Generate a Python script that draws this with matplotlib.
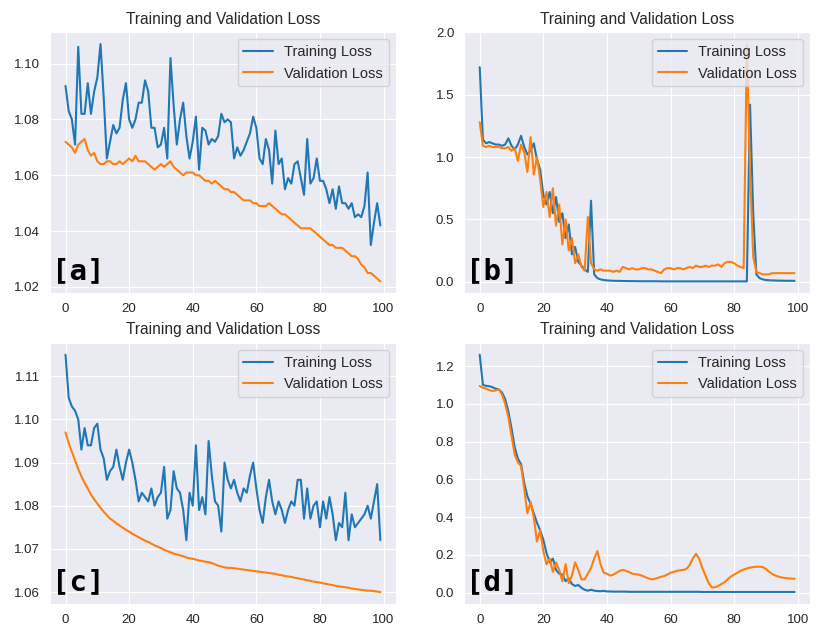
import matplotlib
matplotlib.use("Agg")
import matplotlib.pyplot as plt
import numpy as np
import seaborn as sns

# --- data ---
epochs = np.arange(100)

train_a = [1.092, 1.083, 1.080, 1.071, 1.106, 1.082, 1.082, 1.093, 1.082, 1.090,
           1.095, 1.107, 1.088, 1.066, 1.072, 1.078, 1.075, 1.077, 1.087, 1.093,
           1.080, 1.077, 1.080, 1.086, 1.086, 1.094, 1.090, 1.077, 1.077, 1.070,
           1.071, 1.077, 1.066, 1.102, 1.085, 1.071, 1.080, 1.086, 1.074, 1.066,
           1.072, 1.081, 1.062, 1.077, 1.076, 1.071, 1.073, 1.072, 1.074, 1.082,
           1.079, 1.080, 1.079, 1.066, 1.070, 1.067, 1.069, 1.072, 1.075, 1.081,
           1.077, 1.066, 1.064, 1.073, 1.069, 1.057, 1.076, 1.064, 1.066, 1.055,
           1.059, 1.057, 1.064, 1.065, 1.059, 1.053, 1.073, 1.057, 1.059, 1.066,
           1.058, 1.058, 1.055, 1.050, 1.055, 1.048, 1.056, 1.050, 1.050, 1.048,
           1.050, 1.045, 1.046, 1.045, 1.049, 1.061, 1.035, 1.043, 1.050, 1.042]
val_a = [1.072, 1.071, 1.070, 1.068, 1.071, 1.072, 1.073, 1.069, 1.067, 1.068,
         1.065, 1.064, 1.064, 1.065, 1.065, 1.064, 1.064, 1.065, 1.064, 1.065,
         1.066, 1.065, 1.067, 1.065, 1.065, 1.065, 1.064, 1.063, 1.062, 1.063,
         1.064, 1.063, 1.064, 1.065, 1.063, 1.062, 1.061, 1.060, 1.061, 1.061,
         1.061, 1.060, 1.060, 1.059, 1.058, 1.058, 1.057, 1.058, 1.057, 1.056,
         1.055, 1.055, 1.054, 1.054, 1.053, 1.052, 1.051, 1.051, 1.051, 1.050,
         1.050, 1.049, 1.049, 1.049, 1.050, 1.049, 1.048, 1.047, 1.046, 1.046,
         1.045, 1.044, 1.043, 1.042, 1.041, 1.041, 1.041, 1.041, 1.040, 1.039,
         1.038, 1.037, 1.036, 1.035, 1.035, 1.034, 1.034, 1.034, 1.033, 1.032,
         1.031, 1.031, 1.030, 1.028, 1.027, 1.025, 1.025, 1.024, 1.023, 1.022]

train_b = [1.72, 1.14, 1.11, 1.12, 1.11, 1.10, 1.10, 1.09, 1.10, 1.15,
           1.09, 1.06, 1.10, 1.17, 1.08, 1.02, 1.05, 1.11, 0.98, 0.90,
           0.70, 0.62, 0.72, 0.55, 0.68, 0.48, 0.55, 0.35, 0.46, 0.22,
           0.28, 0.16, 0.13, 0.10, 0.08, 0.65, 0.06, 0.03, 0.02, 0.015,
           0.012, 0.010, 0.009, 0.008, 0.008, 0.007, 0.007, 0.006, 0.006, 0.006,
           0.005, 0.005, 0.005, 0.005, 0.005, 0.005, 0.005, 0.004, 0.004, 0.004,
           0.004, 0.004, 0.004, 0.004, 0.004, 0.004, 0.004, 0.004, 0.004, 0.004,
           0.004, 0.004, 0.004, 0.004, 0.004, 0.004, 0.004, 0.004, 0.004, 0.004,
           0.004, 0.004, 0.004, 0.004, 0.004, 1.42, 0.55, 0.06, 0.03, 0.02,
           0.015, 0.013, 0.012, 0.011, 0.010, 0.010, 0.009, 0.009, 0.009, 0.008]
val_b = [1.28, 1.09, 1.08, 1.09, 1.08, 1.08, 1.08, 1.07, 1.07, 1.08,
         1.05, 1.07, 0.97, 1.10, 1.04, 0.88, 1.16, 0.86, 1.00, 0.82,
         0.60, 0.72, 0.52, 0.75, 0.45, 0.62, 0.30, 0.50, 0.25, 0.35,
         0.15, 0.22, 0.12, 0.09, 0.52, 0.15, 0.10, 0.09, 0.10, 0.09,
         0.09, 0.09, 0.08, 0.09, 0.08, 0.12, 0.11, 0.10, 0.11, 0.10,
         0.10, 0.11, 0.11, 0.10, 0.10, 0.09, 0.08, 0.07, 0.10, 0.11,
         0.11, 0.10, 0.11, 0.11, 0.10, 0.11, 0.12, 0.11, 0.13, 0.12,
         0.12, 0.13, 0.12, 0.13, 0.13, 0.14, 0.12, 0.15, 0.16, 0.16,
         0.15, 0.13, 0.12, 0.11, 1.90, 0.90, 0.20, 0.08, 0.07, 0.06,
         0.06, 0.06, 0.07, 0.07, 0.07, 0.07, 0.07, 0.07, 0.07, 0.07]

train_c = [1.115, 1.105, 1.103, 1.102, 1.100, 1.093, 1.098, 1.094, 1.094, 1.098,
           1.099, 1.093, 1.091, 1.086, 1.088, 1.089, 1.093, 1.089, 1.086, 1.090,
           1.093, 1.090, 1.086, 1.081, 1.083, 1.082, 1.081, 1.084, 1.080, 1.082,
           1.083, 1.089, 1.077, 1.079, 1.088, 1.084, 1.083, 1.079, 1.072, 1.083,
           1.080, 1.094, 1.079, 1.082, 1.078, 1.095, 1.087, 1.081, 1.080, 1.074,
           1.090, 1.086, 1.084, 1.086, 1.083, 1.081, 1.084, 1.083, 1.087, 1.090,
           1.084, 1.079, 1.076, 1.082, 1.086, 1.081, 1.078, 1.081, 1.079, 1.076,
           1.079, 1.081, 1.080, 1.086, 1.086, 1.077, 1.084, 1.077, 1.080, 1.081,
           1.075, 1.081, 1.077, 1.082, 1.078, 1.072, 1.076, 1.075, 1.083, 1.072,
           1.078, 1.075, 1.076, 1.077, 1.078, 1.080, 1.077, 1.081, 1.085, 1.072]
val_c = [1.0970, 1.0945, 1.0925, 1.0905, 1.0885, 1.0868, 1.0853, 1.0840, 1.0826, 1.0815,
         1.0805, 1.0795, 1.0786, 1.0778, 1.0770, 1.0765, 1.0759, 1.0754, 1.0749, 1.0744,
         1.0740, 1.0735, 1.0731, 1.0727, 1.0723, 1.0719, 1.0716, 1.0712, 1.0708, 1.0705,
         1.0702, 1.0698, 1.0695, 1.0692, 1.0689, 1.0687, 1.0685, 1.0683, 1.0680, 1.0678,
         1.0677, 1.0675, 1.0673, 1.0672, 1.0670, 1.0669, 1.0667, 1.0664, 1.0661, 1.0659,
         1.0657, 1.0656, 1.0656, 1.0655, 1.0654, 1.0653, 1.0652, 1.0651, 1.0650, 1.0649,
         1.0648, 1.0647, 1.0646, 1.0645, 1.0644, 1.0643, 1.0642, 1.0640, 1.0639, 1.0637,
         1.0636, 1.0635, 1.0633, 1.0632, 1.0630, 1.0629, 1.0627, 1.0626, 1.0624, 1.0623,
         1.0622, 1.0620, 1.0619, 1.0617, 1.0616, 1.0614, 1.0613, 1.0612, 1.0611, 1.0610,
         1.0608, 1.0607, 1.0606, 1.0605, 1.0604, 1.0603, 1.0603, 1.0602, 1.0601, 1.0600]

train_d = [1.26, 1.10, 1.095, 1.093, 1.088, 1.08, 1.076, 1.06, 1.025, 0.96,
           0.87, 0.77, 0.71, 0.68, 0.58, 0.51, 0.47, 0.42, 0.37, 0.33,
           0.28, 0.21, 0.16, 0.18, 0.12, 0.10, 0.095, 0.06, 0.075, 0.045,
           0.035, 0.04, 0.025, 0.015, 0.010, 0.015, 0.010, 0.008, 0.007, 0.009,
           0.006, 0.006, 0.005, 0.005, 0.005, 0.005, 0.005, 0.004, 0.004, 0.004,
           0.004, 0.004, 0.004, 0.004, 0.004, 0.004, 0.004, 0.004, 0.004, 0.004,
           0.004, 0.004, 0.004, 0.004, 0.004, 0.004, 0.004, 0.004, 0.004, 0.004,
           0.003, 0.003, 0.003, 0.003, 0.003, 0.003, 0.003, 0.003, 0.003, 0.003,
           0.003, 0.003, 0.003, 0.003, 0.003, 0.003, 0.003, 0.003, 0.003, 0.003,
           0.003, 0.003, 0.003, 0.003, 0.003, 0.003, 0.003, 0.003, 0.003, 0.003]
val_d = [1.094, 1.085, 1.08, 1.072, 1.068, 1.07, 1.076, 1.05, 1.0, 0.93,
         0.83, 0.73, 0.69, 0.67, 0.55, 0.42, 0.48, 0.40, 0.27, 0.33,
         0.22, 0.15, 0.18, 0.11, 0.16, 0.12, 0.06, 0.15, 0.05, 0.09,
         0.16, 0.12, 0.07, 0.07, 0.10, 0.13, 0.18, 0.22, 0.15, 0.105,
         0.10, 0.09, 0.095, 0.105, 0.115, 0.12, 0.115, 0.108, 0.10, 0.097,
         0.095, 0.09, 0.082, 0.075, 0.07, 0.072, 0.078, 0.083, 0.088, 0.095,
         0.105, 0.11, 0.115, 0.118, 0.12, 0.125, 0.145, 0.18, 0.205, 0.18,
         0.13, 0.09, 0.05, 0.027, 0.028, 0.035, 0.045, 0.055, 0.07, 0.085,
         0.095, 0.105, 0.115, 0.122, 0.128, 0.132, 0.135, 0.137, 0.137, 0.135,
         0.125, 0.11, 0.098, 0.09, 0.084, 0.08, 0.077, 0.075, 0.074, 0.073]

panels = [("[a]", train_a, val_a), ("[b]", train_b, val_b),
          ("[c]", train_c, val_c), ("[d]", train_d, val_d)]

sns.set_style("darkgrid")
plt.rcParams['font.family'] = ['Liberation Sans', 'DejaVu Sans']

fig, axes = plt.subplots(2, 2, figsize=(8.16, 6.31), dpi=100)
plt.subplots_adjust(left=0.061, right=0.993, top=0.949, bottom=0.043,
                    wspace=0.196, hspace=0.19)

for ax, (tag, tr, va) in zip(axes.flat, panels):
    ax.plot(epochs, tr, color='#1f77b4', lw=1.5, label='Training Loss')
    ax.plot(epochs, va, color='#ff7f0e', lw=1.5, label='Validation Loss')
    ax.set_title("Training and Validation Loss", fontsize=11.2, color='#262626')
    ax.set_xticks([0, 20, 40, 60, 80, 100])
    ax.tick_params(labelsize=9.5, colors='#262626')
    ax.legend(loc='upper right', fontsize=10.5)
    ax.text(0.006, 0.03, tag, transform=ax.transAxes, fontsize=21,
            family='DejaVu Sans Mono', fontweight='bold', color='black',
            ha='left', va='bottom')

axes[0, 0].set_yticks([1.02, 1.04, 1.06, 1.08, 1.10])
axes[0, 1].set_yticks([0.0, 0.5, 1.0, 1.5, 2.0])
axes[1, 0].set_yticks([1.06, 1.07, 1.08, 1.09, 1.10, 1.11])
axes[1, 1].set_yticks([0.0, 0.2, 0.4, 0.6, 0.8, 1.0, 1.2])

plt.savefig("out.png", dpi=100)
plt.close()
